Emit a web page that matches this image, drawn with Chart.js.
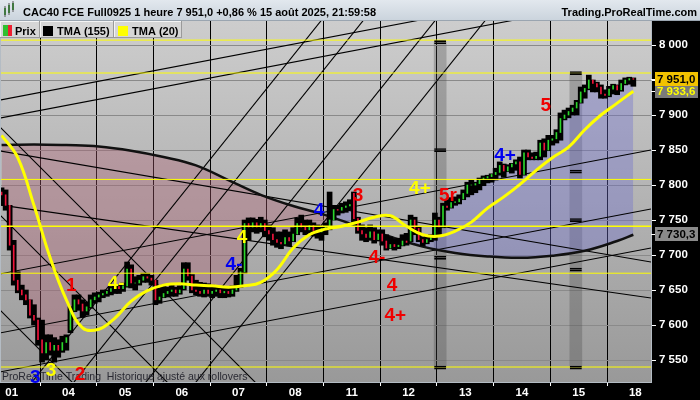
<!DOCTYPE html>
<html>
<head>
<meta charset="utf-8">
<script src="https://cdn.jsdelivr.net/npm/chart.js@4.4.0/dist/chart.umd.min.js"></script>
<style>
  html, body { margin: 0; padding: 0; background: #000; }
  #wrap { width: 700px; height: 400px; }
</style>
</head>
<body>
<div id="wrap"><canvas id="chart" width="700" height="400"></canvas></div>
<script>
// Axes
const dayLabels = ['01', '04', '05', '06', '07', '08', '11', '12', '13', '14', '15', '18'];
const dayTicks = [2.5, 16.5, 30.5, 44.5, 58.5, 72.5, 86.5, 100.5, 114.5, 128.5, 142.5, 156.5];
const priceTicks = [7550, 7600, 7650, 7700, 7750, 7800, 7850, 7900, 7950, 8000];
const X_MIN = -0.14, X_MAX = 160.36;
const Y_MIN = 7518.6, Y_MAX = 8034.3;

// Bougies horaires (barre 0 = 31/07 19h ... barre 156 = 15/08 21h)
const opens = [
  7790, 7786, 7771, 7714, 7664, 7650, 7643, 7636, 7614, 7607, 7579, 7560, 7575, 7564, 7571, 7564, 7575,
  7593, 7621, 7636, 7630, 7620, 7626, 7636, 7640, 7643, 7645, 7648, 7652, 7655, 7652,
  7656, 7680, 7660, 7660, 7664, 7669, 7667, 7664, 7636, 7640, 7645, 7648, 7650, 7646,
  7652, 7680, 7670, 7650, 7648, 7645, 7650, 7645, 7648, 7650, 7646, 7648, 7645, 7650,
  7655, 7676, 7745, 7740, 7746, 7740, 7745, 7735, 7730, 7722, 7718, 7716, 7725, 7720,
  7730, 7745, 7740, 7736, 7742, 7735, 7733, 7738, 7740, 7750, 7765, 7764, 7768, 7770,
  7788, 7752, 7735, 7730, 7725, 7733, 7722, 7730, 7720, 7710, 7715, 7712, 7714, 7720,
  7720, 7750, 7738, 7722, 7718, 7722, 7725, 7750, 7740, 7770, 7768, 7775, 7776, 7780,
  7788, 7800, 7800, 7802, 7808, 7810, 7812, 7815, 7818, 7828, 7820, 7826, 7830, 7833,
  7815, 7846, 7840, 7838, 7841, 7860, 7850, 7864, 7866, 7875, 7895, 7900, 7905, 7910,
  7918, 7933, 7938, 7950, 7945, 7940, 7930, 7928, 7937, 7942, 7936, 7945, 7950, 7952
];
const highs = [
  7796, 7793, 7771, 7721, 7676, 7657, 7650, 7636, 7629, 7610, 7607, 7586, 7586, 7582, 7579, 7584, 7586,
  7626, 7643, 7643, 7636, 7633, 7643, 7646, 7647, 7650, 7650, 7655, 7657, 7657, 7660,
  7690, 7686, 7669, 7671, 7674, 7674, 7671, 7664, 7653, 7657, 7654, 7657, 7654, 7656,
  7689, 7689, 7672, 7664, 7661, 7660, 7659, 7657, 7656, 7654, 7653, 7654, 7656, 7671,
  7681, 7750, 7753, 7753, 7751, 7754, 7750, 7743, 7739, 7733, 7733, 7736, 7733, 7739,
  7753, 7757, 7750, 7750, 7746, 7743, 7741, 7746, 7790, 7771, 7771, 7774, 7776, 7779,
  7790, 7754, 7743, 7739, 7743, 7739, 7736, 7736, 7729, 7726, 7723, 7724, 7729, 7731,
  7757, 7754, 7740, 7726, 7727, 7729, 7760, 7754, 7774, 7779, 7782, 7783, 7786, 7793,
  7804, 7807, 7804, 7810, 7813, 7814, 7816, 7824, 7833, 7830, 7829, 7831, 7836, 7840,
  7850, 7850, 7846, 7847, 7864, 7866, 7871, 7871, 7879, 7903, 7907, 7910, 7914, 7921,
  7940, 7943, 7957, 7950, 7947, 7943, 7936, 7941, 7944, 7943, 7950, 7953, 7954, 7953
];
const lows = [
  7771, 7764, 7707, 7657, 7646, 7636, 7629, 7610, 7600, 7571, 7547, 7550, 7557, 7547, 7554, 7561, 7564,
  7589, 7619, 7621, 7611, 7614, 7624, 7631, 7633, 7639, 7641, 7643, 7645, 7645, 7648,
  7654, 7653, 7650, 7657, 7661, 7661, 7657, 7629, 7631, 7639, 7640, 7641, 7641, 7644,
  7650, 7664, 7646, 7643, 7641, 7640, 7641, 7639, 7641, 7639, 7639, 7640, 7641, 7648,
  7654, 7674, 7721, 7733, 7731, 7733, 7726, 7721, 7714, 7711, 7709, 7714, 7713, 7719,
  7729, 7733, 7729, 7731, 7727, 7724, 7721, 7729, 7736, 7750, 7757, 7760, 7761, 7764,
  7747, 7731, 7721, 7719, 7721, 7717, 7720, 7714, 7707, 7709, 7707, 7709, 7713, 7714,
  7719, 7729, 7719, 7713, 7716, 7719, 7721, 7729, 7739, 7764, 7767, 7771, 7773, 7779,
  7783, 7786, 7789, 7793, 7799, 7803, 7804, 7807, 7814, 7811, 7819, 7817, 7821, 7810,
  7814, 7836, 7836, 7836, 7836, 7840, 7849, 7857, 7860, 7864, 7893, 7896, 7900, 7900,
  7917, 7924, 7936, 7933, 7933, 7924, 7924, 7926, 7930, 7929, 7934, 7943, 7944, 7941
];
const closes = [
  7786, 7771, 7714, 7664, 7650, 7643, 7636, 7614, 7607, 7579, 7560, 7575, 7564, 7571, 7564, 7575, 7582,
  7621, 7636, 7630, 7620, 7626, 7636, 7640, 7643, 7645, 7648, 7652, 7655, 7652, 7656,
  7680, 7660, 7660, 7664, 7669, 7667, 7664, 7636, 7640, 7645, 7648, 7650, 7646, 7650,
  7680, 7670, 7650, 7648, 7645, 7650, 7645, 7648, 7650, 7646, 7648, 7645, 7650, 7655,
  7676, 7745, 7740, 7746, 7740, 7745, 7735, 7730, 7722, 7718, 7716, 7725, 7720, 7730,
  7745, 7740, 7736, 7742, 7735, 7733, 7738, 7740, 7750, 7765, 7764, 7768, 7770, 7772,
  7752, 7735, 7730, 7725, 7733, 7722, 7730, 7720, 7710, 7715, 7712, 7714, 7720, 7718,
  7750, 7738, 7722, 7718, 7722, 7725, 7750, 7740, 7770, 7768, 7775, 7776, 7780, 7788,
  7800, 7800, 7802, 7808, 7810, 7812, 7815, 7818, 7828, 7820, 7826, 7830, 7833, 7815,
  7846, 7840, 7838, 7841, 7860, 7850, 7864, 7866, 7875, 7895, 7900, 7905, 7910, 7918,
  7933, 7938, 7950, 7945, 7940, 7930, 7928, 7937, 7942, 7936, 7945, 7950, 7952, 7951
];

// Moyennes mobiles triangulaires
const tma20X = [0, 4, 8, 12, 16, 20, 24, 28, 32, 36, 40, 44, 48, 52, 56, 60, 64, 68, 72, 76,
  80, 84, 88, 92, 96, 100, 104, 108, 112, 116, 120, 124, 128, 132, 136, 140, 144, 148, 152, 156];
const tma20 = [7871, 7839, 7771, 7696, 7636, 7596, 7594, 7610, 7634, 7649, 7657, 7659, 7657, 7656,
  7654, 7656, 7661, 7679, 7710, 7729, 7737, 7741, 7747, 7754, 7756, 7741, 7729, 7727, 7734, 7747,
  7767, 7783, 7801, 7821, 7839, 7854, 7879, 7900, 7917, 7934];
const tma155X = [0, 8, 16, 24, 32, 40, 48, 56, 64, 72, 80, 88, 96, 104, 112, 120, 128, 136, 144, 152, 156];
const tma155 = [7857, 7858, 7857, 7855, 7849, 7840, 7828, 7807, 7786, 7770, 7757, 7741, 7726, 7712,
  7703, 7698, 7696, 7699, 7706, 7720, 7729];

// Niveaux horizontaux jaunes
const levels = [8007, 7960, 7808, 7741, 7674, 7540];

// Lignes de tendance tracées (barre, prix) -> (barre, prix)
const trendX1 = [-0.38, -0.38, -0.38, -0.38, -0.38, -0.38, -0.38, 3.96, 14.33, 32.11, 44.46, -0.38, -0.38, -0.38];
const trendY1 = [7921.4, 7895.7, 7672.9, 7588.6, 7532.9, 7848.6, 7771.4, 7492.9, 7492.9, 7492.9, 7492.9, 7882.9, 7621.4, 7757.1];
const trendX2 = [160.36, 160.36, 160.36, 160.36, 160.36, 160.36, 160.36, 82.98, 93.35, 111.12, 123.47, 67.02, 21.84, 45.3];
const trendY2 = [8098.6, 8072.9, 7850.0, 7765.7, 7710.0, 7690.0, 7638.6, 8064.3, 8064.3, 8064.3, 8064.3, 7492.9, 7492.9, 7492.9];

// Bandes grises verticales et leurs repères
const bandX = [108.3, 141.8];
const bandTop = [8004, 7960];
const bandBottom = [7539, 7539];
const markX = [108.3, 108.3, 108.3, 108.3, 141.8, 141.8, 141.8, 141.8, 141.8];
const markY = [8004, 7850, 7696, 7539, 7960, 7819, 7750, 7679, 7539];

// Comptage des vagues
const waveText = ['1', '2', '3', '3', '4-', '4-', '4', '4', '3', '4-', '4', '4+', '4+', '5r', '4+', '5'];
const waveX = [17.2, 19.4, 8.3, 12.2, 28.3, 57.4, 59.4, 78.4, 88, 92.7, 96.4, 97.2, 103.3, 110.2, 124.3, 134.4];
const waveY = [7657, 7531, 7526, 7536, 7660, 7687, 7726, 7764, 7786, 7697, 7657, 7614, 7796, 7786, 7843, 7914];
const waveColor = ['red', 'red', 'blue', 'yellow', 'yellow', 'blue', 'yellow', 'blue', 'red', 'red', 'red', 'red', 'yellow', 'red', 'blue', 'red'];

// Étiquettes de prix
const lastPrice = 7951.0;
const tma20Last = 7933.6;
const tma155Last = 7730.3;

const palette = { red: '#f00000', blue: '#0000f0', yellow: '#ffff00' };
const FONT = '"Liberation Sans", Arial, sans-serif';

function fmtPrice(v, dec) {
    const s = v.toFixed(dec).replace('.', ',');
    const [a, b] = s.split(',');
    const grouped = a.replace(/\B(?=(\d{3})+(?!\d))/g, ' ');
    return b !== undefined ? grouped + ',' + b : grouped;
}

// Fond dégradé de la zone de tracé
const backgroundPlugin = {
    id: 'background',
    beforeDraw(chart) {
        const { ctx, chartArea: a } = chart;
        ctx.save();
        ctx.fillStyle = '#000';
        ctx.fillRect(0, 0, chart.width, chart.height);
        const g = ctx.createLinearGradient(0, a.top, 0, a.bottom);
        g.addColorStop(0, '#cdcdcd');
        g.addColorStop(1, '#999999');
        ctx.fillStyle = g;
        ctx.fillRect(a.left, a.top, a.right - a.left, a.bottom - a.top);
        ctx.restore();
    }
};

// Textes, étiquettes et en-tête
const overlayPlugin = {
    id: 'overlay',
    afterDatasetsDraw(chart) {
        const { ctx, chartArea: a, scales } = chart;
        ctx.save();
        ctx.strokeStyle = '#b4bcc4';
        ctx.lineWidth = 1;
        ctx.strokeRect(a.left - 0.5, a.top - 0.5, a.right - a.left + 1, a.bottom - a.top + 1);

        ctx.fillStyle = '#2a2a33';
        ctx.font = '10.5px ' + FONT;
        ctx.textAlign = 'left';
        ctx.textBaseline = 'alphabetic';
        ctx.fillText('ProRealTime Trading  Historique ajusté aux rollovers', 2, 380);

        ctx.font = 'bold 19px ' + FONT;
        ctx.textAlign = 'center';
        ctx.textBaseline = 'middle';
        waveText.forEach((t, i) => {
            ctx.fillStyle = palette[waveColor[i]];
            ctx.fillText(t, scales.x.getPixelForValue(waveX[i]), scales.y.getPixelForValue(waveY[i]) + 1);
        });
        ctx.restore();
    },
    afterDraw(chart) {
        const { ctx, scales } = chart;
        ctx.save();
        // étiquettes de prix sur l'axe
        const tag = (v, bg, fg) => {
            const y = Math.round(scales.y.getPixelForValue(v));
            ctx.fillStyle = '#fff';
            ctx.fillRect(651, y, 5, 1);
            ctx.fillStyle = bg;
            ctx.fillRect(655, y - 7, 43, 14);
            ctx.fillStyle = fg;
            ctx.font = 'bold 11.5px ' + FONT;
            ctx.textAlign = 'left';
            ctx.textBaseline = 'middle';
            ctx.fillText(fmtPrice(v, 1), 657, y + 1);
        };
        tag(tma155Last, '#8a8a8a', '#000');
        tag(tma20Last, '#7a7a7a', '#ffff00');
        tag(lastPrice, '#f2c200', '#000');

        // bandeau titre
        const g = ctx.createLinearGradient(0, 0, 0, 20);
        g.addColorStop(0, '#e2e8ee');
        g.addColorStop(1, '#cbd4dd');
        ctx.fillStyle = g;
        ctx.fillRect(0, 0, 700, 20);
        ctx.fillStyle = '#9aa5b0';
        ctx.fillRect(0, 20, 700, 1);
        // icône
        ctx.fillStyle = '#2c9a2c';
        ctx.fillRect(4, 8, 2, 7); ctx.fillRect(8, 5, 2, 8); ctx.fillRect(12, 3, 2, 7);
        ctx.fillStyle = '#555';
        ctx.fillRect(4.5, 6, 1, 11); ctx.fillRect(8.5, 3, 1, 12); ctx.fillRect(12.5, 1, 1, 11);
        ctx.fillStyle = '#000';
        ctx.font = 'bold 11px ' + FONT;
        ctx.textBaseline = 'alphabetic';
        ctx.textAlign = 'left';
        ctx.fillText('CAC40 FCE Full0925 1 heure 7 951,0 +0,86 % 15 août 2025, 21:59:58', 23, 16);
        ctx.textAlign = 'right';
        ctx.fillText('Trading.ProRealTime.com', 697, 16);

        // légende
        const box = (x0, x1) => {
            ctx.fillStyle = '#d6d6d6';
            ctx.fillRect(x0, 21, x1 - x0, 17);
            ctx.fillStyle = '#f4f4f4';
            ctx.fillRect(x0, 21, x1 - x0, 1); ctx.fillRect(x0, 21, 1, 17);
            ctx.fillStyle = '#9a9a9a';
            ctx.fillRect(x0, 37, x1 - x0, 1); ctx.fillRect(x1 - 1, 21, 1, 17);
        };
        box(0, 40); box(40, 114); box(114, 182);
        ctx.fillStyle = '#2fc02f'; ctx.fillRect(3, 25, 5, 11);
        ctx.fillStyle = '#ee2030'; ctx.fillRect(8, 25, 4, 11);
        ctx.fillStyle = '#000'; ctx.fillRect(43, 26, 10, 10);
        ctx.fillStyle = '#ffff00'; ctx.fillRect(118, 26, 10, 10);
        ctx.fillStyle = '#000';
        ctx.textAlign = 'left';
        ctx.fillText('Prix', 15, 35);
        ctx.fillText('TMA (155)', 57, 35);
        ctx.fillText('TMA (20)', 132, 35);
        ctx.restore();
    }
};

const candleColors = closes.map((c, i) => c >= opens[i] ? '#2bd62b' : '#f0143c');

const datasets = [
    {   // 0 : bandes grises
        type: 'bar', order: 100, grouped: false,
        data: bandX.map((x, i) => ({ x: x, y: [bandBottom[i], bandTop[i]] })),
        backgroundColor: 'rgba(70,70,70,0.3)', barThickness: 12, borderWidth: 0
    },
    {   // 1 : remplissage entre cours et TMA(155)
        type: 'line', order: 90,
        data: closes.map((c, i) => ({ x: i, y: c })),
        borderWidth: 0, pointRadius: 0,
        fill: { target: 2, above: 'rgba(110,110,205,0.38)', below: 'rgba(175,95,115,0.36)' }
    },
    {   // 2 : TMA(155)
        type: 'line', order: 70, label: 'TMA (155)',
        data: tma155X.map((x, i) => ({ x: x, y: tma155[i] })),
        borderColor: '#111', borderWidth: 2.5, pointRadius: 0, tension: 0.4
    },
    {   // 3 : amplitude des bougies
        type: 'bar', order: 60, grouped: false,
        data: highs.map((h, i) => ({ x: i, y: [lows[i], h] })),
        backgroundColor: '#000', barThickness: 5, borderWidth: 0
    },
    {   // 4 : corps des bougies
        type: 'bar', order: 59, grouped: false,
        data: opens.map((o, i) => ({ x: i, y: [o, closes[i]] })),
        backgroundColor: candleColors, barThickness: 1, borderWidth: 0
    },
    {   // 5 : TMA(20)
        type: 'line', order: 40, label: 'TMA (20)',
        data: tma20X.map((x, i) => ({ x: x, y: tma20[i] })),
        borderColor: '#ffff00', borderWidth: 3, pointRadius: 0, tension: 0.4
    },
    {   // 6 : repères des bandes
        type: 'bar', order: 30, grouped: false,
        data: markX.map((x, i) => ({ x: x, y: [markY[i] - 2.2, markY[i] + 2.2] })),
        backgroundColor: 'rgba(0,0,0,0)', borderColor: '#000',
        borderWidth: { top: 1, bottom: 1, left: 0, right: 0 }, borderSkipped: false, barThickness: 12
    }
];

levels.forEach(v => {
    datasets.push({
        type: 'line', order: 50,
        data: [{ x: X_MIN, y: v }, { x: X_MAX, y: v }],
        borderColor: '#ffff00', borderWidth: v === 7741 ? 1.6 : 1, pointRadius: 0
    });
});

trendX1.forEach((x1, i) => {
    datasets.push({
        type: 'line', order: 80,
        data: [{ x: x1, y: trendY1[i] }, { x: trendX2[i], y: trendY2[i] }],
        borderColor: '#000', borderWidth: 1.1, pointRadius: 0
    });
});

new Chart(document.getElementById('chart'), {
    type: 'bar',
    data: { datasets: datasets },
    options: {
        responsive: false,
        animation: false,
        events: [],
        layout: { padding: { top: 21, left: 1, right: 0, bottom: 0 } },
        plugins: { legend: { display: false }, tooltip: { enabled: false } },
        scales: {
            x: {
                type: 'linear', min: X_MIN, max: X_MAX, offset: false,
                afterBuildTicks: ax => { ax.ticks = dayTicks.map(v => ({ value: v })); },
                afterFit: ax => { ax.height = 18; },
                ticks: {
                    color: '#fff', padding: 0, maxRotation: 0, autoSkip: false,
                    font: { family: FONT, size: 11.5, weight: 'bold' },
                    callback: (v, i) => dayLabels[i]
                },
                grid: { color: '#000', lineWidth: 1, tickLength: 4, tickColor: '#fff' },
                border: { display: false }
            },
            y: {
                position: 'right', min: Y_MIN, max: Y_MAX,
                afterBuildTicks: ax => { ax.ticks = priceTicks.map(v => ({ value: v })); },
                afterFit: ax => { ax.width = 49; },
                ticks: {
                    color: '#fff', padding: 3,
                    font: { family: FONT, size: 11.5, weight: 'bold' },
                    callback: v => fmtPrice(v, 0)
                },
                grid: { color: '#8a8a8a', lineWidth: 1, tickLength: 5, tickColor: '#fff' },
                border: { display: false }
            }
        }
    },
    plugins: [backgroundPlugin, overlayPlugin]
});
</script>
</body>
</html>
